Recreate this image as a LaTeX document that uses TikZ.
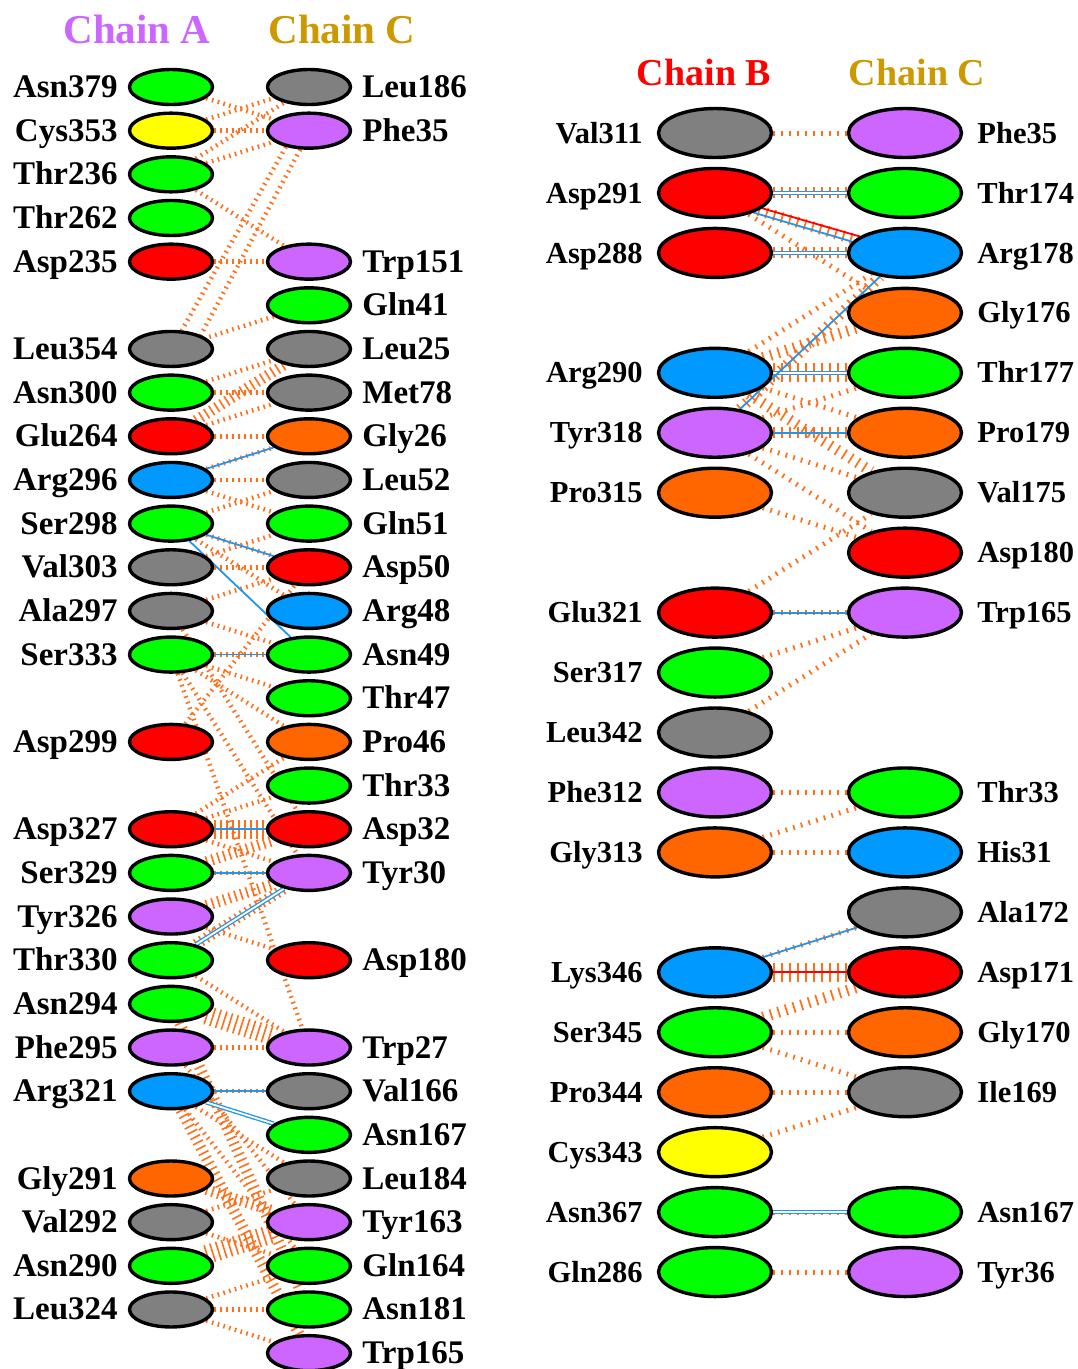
\documentclass[tikz,border=0pt]{standalone}
\usepackage{fontspec}
\setmainfont{Liberation Serif}
\usetikzlibrary{positioning, backgrounds, shapes.geometric}
\definecolor{resGreen}{HTML}{00FF00}
\definecolor{resYellow}{HTML}{FFFF00}
\definecolor{resRed}{HTML}{FF0000}
\definecolor{resGrey}{HTML}{808080}
\definecolor{resPurple}{HTML}{CC66FF}
\definecolor{resBlue}{HTML}{0099FF}
\definecolor{resOrange}{HTML}{FF6600}
\definecolor{ctOrange}{HTML}{FF6F1A}
\definecolor{hbBlue}{HTML}{1F97EE}
\definecolor{chainA}{HTML}{CC66FF}
\definecolor{chainB}{HTML}{FF0000}
\definecolor{chainC}{HTML}{CC9900}

\begin{document}
\begin{tikzpicture}[x=1pt, y=-1pt,
  resbase/.style={ellipse, draw=black, line width=3.4pt, inner sep=0pt},
  resL/.style={resbase, minimum width=83pt, minimum height=35pt},
  resR/.style={resbase, minimum width=113pt, minimum height=49pt},
  lblL/.style={inner sep=0pt, font=\fontsize{33}{36}\selectfont\bfseries, text height=22pt, text depth=1pt},
  lblR/.style={inner sep=0pt, font=\fontsize{30.5}{34}\selectfont\bfseries, text height=21pt, text depth=0.8pt},
  ttl/.style={inner sep=0pt, anchor=base, font=\fontsize{41}{44}\selectfont\bfseries},
  ct/.style={draw=ctOrange, line width=4.5pt, dash pattern=on 1.6pt off 4.4pt},
  ctB/.style={ct, line width=11pt},
  ctC/.style={ct, line width=19pt},
  hb/.style={draw=hbBlue, line width=1.8pt},
  hbb/.style={draw=hbBlue, line width=1.3pt, double=white, double distance=1.8pt},
  salt/.style={draw=red, line width=1.8pt},
]
  \useasboundingbox (0,0) rectangle (1078,1369);

  % ---------- left panel: chain A / chain C ----------
  \node[ttl, text=chainA] (ttlA) at (137,43) {Chain A};
  \node[ttl, text=chainC] (ttlC1) at (342,43) {Chain C};
  \foreach \r/\i/\c in {Asn379/0/resGreen, Cys353/1/resYellow, Thr236/2/resGreen,
      Thr262/3/resGreen, Asp235/4/resRed, Leu354/6/resGrey, Asn300/7/resGreen,
      Glu264/8/resRed, Arg296/9/resBlue, Ser298/10/resGreen, Val303/11/resGrey,
      Ala297/12/resGrey, Ser333/13/resGreen, Asp299/15/resRed, Asp327/17/resRed,
      Ser329/18/resGreen, Tyr326/19/resPurple, Thr330/20/resGreen, Asn294/21/resGreen,
      Phe295/22/resPurple, Arg321/23/resBlue, Gly291/25/resOrange, Val292/26/resGrey,
      Asn290/27/resGreen, Leu324/28/resGrey} {
    \node[resL, fill=\c] (la\r) at (171,{87+43.66*\i}) {};
    \node[lblL, left=10pt of la\r] (tla\r) {\r};
  }
  \foreach \r/\i/\c in {Leu186/0/resGrey, Phe35/1/resPurple, Trp151/4/resPurple,
      Gln41/5/resGreen, Leu25/6/resGrey, Met78/7/resGrey, Gly26/8/resOrange,
      Leu52/9/resGrey, Gln51/10/resGreen, Asp50/11/resRed, Arg48/12/resBlue,
      Asn49/13/resGreen, Thr47/14/resGreen, Pro46/15/resOrange, Thr33/16/resGreen,
      Asp32/17/resRed, Tyr30/18/resPurple, Asp180/20/resRed, Trp27/22/resPurple,
      Val166/23/resGrey, Asn167/24/resGreen, Leu184/25/resGrey, Tyr163/26/resPurple,
      Gln164/27/resGreen, Asn181/28/resGreen, Trp165/29/resPurple} {
    \node[resL, fill=\c] (lc\r) at (309,{87+43.66*\i}) {};
    \node[lblL, right=10pt of lc\r] (tlc\r) {\r};
  }

  % ---------- right panel: chain B / chain C ----------
  \node[ttl, text=chainB, font=\fontsize{38}{42}\selectfont\bfseries] (ttlB) at (704,85) {Chain B};
  \node[ttl, text=chainC, font=\fontsize{38}{42}\selectfont\bfseries] (ttlC2) at (917,85) {Chain C};
  \foreach \r/\i/\c in {Val311/0/resGrey, Asp291/1/resRed, Asp288/2/resRed,
      Arg290/4/resBlue, Tyr318/5/resPurple, Pro315/6/resOrange, Glu321/8/resRed,
      Ser317/9/resGreen, Leu342/10/resGrey, Phe312/11/resPurple, Gly313/12/resOrange,
      Lys346/14/resBlue, Ser345/15/resGreen, Pro344/16/resOrange, Cys343/17/resYellow,
      Asn367/18/resGreen, Gln286/19/resGreen} {
    \node[resR, fill=\c] (rb\r) at (715,{133+59.95*\i}) {};
    \node[lblR, left=14pt of rb\r] (trb\r) {\r};
  }
  \foreach \r/\i/\c in {Phe35/0/resPurple, Thr174/1/resGreen, Arg178/2/resBlue,
      Gly176/3/resOrange, Thr177/4/resGreen, Pro179/5/resOrange, Val175/6/resGrey,
      Asp180/7/resRed, Trp165/8/resPurple, Thr33/11/resGreen, His31/12/resBlue,
      Ala172/13/resGrey, Asp171/14/resRed, Gly170/15/resOrange, Ile169/16/resGrey,
      Asn167/18/resGreen, Tyr36/19/resPurple} {
    \node[resR, fill=\c] (rc\r) at (905,{133+59.95*\i}) {};
    \node[lblR, right=14pt of rc\r] (trc\r) {\r};
  }

  \begin{scope}[on background layer]
    % left contacts
    \draw[ct] (laAsn379) -- (lcPhe35);
    \draw[ct] (laCys353) -- (lcPhe35);
    \draw[ct] (laCys353) -- (lcLeu186);
    \draw[ct] (laThr236) -- (lcPhe35);
    \draw[ct] (laThr236) -- (lcLeu186);
    \draw[ct] (laThr236) -- (lcTrp151);
    \draw[ct] (laAsp235) -- (lcTrp151);
    \draw[ct] (lcPhe35.215) -- (laLeu354.60);
    \draw[ct] (lcPhe35.245) -- (laLeu354.25);
    \draw[ct] (lcGln41) -- (laLeu354);
    \draw[ctB] (laGlu264) -- (lcLeu25);
    \draw[ct] (laAsn300) -- (lcMet78);
    \draw[ct] (laAsn300) -- (lcLeu25);
    \draw[ct] (laGlu264) -- (lcMet78);
    \draw[ct] (laGlu264) -- (lcGly26);
    \draw[ct] (laArg296) -- (lcGly26);
    \draw[ct] (laArg296) -- (lcLeu52);
    \draw[ct] (laArg296) -- (lcGln51);
    \draw[ct] (laSer298) -- (lcLeu52);
    \draw[ct] (laSer298) -- (lcAsp50);
    \draw[ct] (laSer298) -- (lcArg48);
    \draw[ct] (laVal303) -- (lcAsp50);
    \draw[ct] (laVal303) -- (lcGln51);
    \draw[ct] (laAla297) -- (lcAsp50);
    \draw[ct] (laAla297) -- (lcAsn49);
    \draw[ct] (laSer333) -- (lcAsn49);
    \draw[ct] (laSer333) -- (lcThr47);
    \draw[ct] (laSer333) -- (lcPro46);
    \draw[ct] (laAsp299) -- (lcAsp50);
    \draw[ct] (laSer333) -- (lcTyr30);
    \draw[ct] (laAla297) -- (lcAsp32);
    \draw[ct] (laSer333) -- (lcTrp27);
    \draw[ctC] (laAsp327) -- (lcAsp32);
    \draw[ct] (laAsp327) -- (lcThr33);
    \draw[ct] (laAsp327) -- (lcPro46);
    \draw[ct] (laAsp327) -- (lcTyr30);
    \draw[ct] (laSer329) -- (lcTyr30);
    \draw[ctB] (laSer329) -- (lcAsp32);
    \draw[ctB] (laTyr326) -- (lcTyr30);
    \draw[ctB] (laThr330) -- (lcTyr30);
    \draw[ct] (laTyr326) -- (lcAsp180);
    \draw[ct] (laThr330) -- (lcTrp27);
    \draw[ctC] (laAsn294) -- (lcTrp27);
    \draw[ct] (laPhe295) -- (lcTrp27);
    \draw[ct] (laPhe295) -- (lcTyr163);
    \draw[ct] (laArg321) -- (lcVal166);
    \draw[ct] (laArg321) -- (lcAsn167);
    \draw[ct] (laArg321) -- (lcLeu184);
    \draw[ct] (laArg321) -- (lcGln164);
    \draw[ctB] (laArg321) -- (lcTrp165);
    \draw[ctB] (laAsn294) -- (lcAsn181);
    \draw[ctB] (laGly291) -- (lcTyr163);
    \draw[ct] (laVal292) -- (lcLeu184);
    \draw[ct] (laVal292) -- (lcGln164);
    \draw[ctC] (laAsn290) -- (lcTyr163);
    \draw[ct] (laLeu324) -- (lcGln164);
    \draw[ct] (laLeu324) -- (lcAsn181);
    \draw[ct] (laLeu324) -- (lcTrp165);
    % left hydrogen bonds
    \draw[hb] (laArg296) -- (lcGly26);
    \draw[hb] (laSer298) -- (lcAsp50);
    \draw[hb] (laSer298) -- (lcAsn49);
    \draw[hb] (laSer333) -- (lcAsn49);
    \draw[hb] (laAsp327) -- (lcAsp32);
    \draw[hb] (laSer329) -- (lcTyr30);
    \draw[hbb] (laThr330) -- (lcTyr30);
    \draw[hb] (laArg321) -- (lcVal166);
    \draw[hbb] (laArg321) -- (lcAsn167);

    % right contacts
    \begin{scope}[ct/.style={draw=ctOrange, line width=5pt, dash pattern=on 1.7pt off 6.3pt}]
      \draw[ct] (rbVal311) -- (rcPhe35);
      \draw[ctB] (rbAsp291) -- (rcThr174);
      \draw[ctB] (rbAsp291.-22) -- (rcArg178.165);
      \draw[ct] (rbAsp291) -- (rcGly176);
      \draw[ctB] (rbAsp288) -- (rcArg178);
      \draw[ct] (rbArg290) -- (rcArg178);
      \draw[ctB] (rbArg290) -- (rcGly176);
      \draw[ctC] (rbArg290) -- (rcThr177);
      \draw[ct] (rbArg290) -- (rcPro179);
      \draw[ctB] (rbArg290) -- (rcVal175);
      \draw[ctB] (rbTyr318) -- (rcArg178);
      \draw[ct] (rbTyr318) -- (rcThr177);
      \draw[ctB] (rbTyr318) -- (rcPro179);
      \draw[ct] (rbTyr318) -- (rcVal175);
      \draw[ct] (rbTyr318) -- (rcAsp180);
      \draw[ct] (rbPro315) -- (rcAsp180);
      \draw[ct] (rbGlu321) -- (rcVal175);
      \draw[ct] (rbGlu321) -- (rcTrp165);
      \draw[ct] (rbSer317) -- (rcTrp165);
      \draw[ct] (rbLeu342) -- (rcTrp165);
      \draw[ct] (rbPhe312) -- (rcThr33);
      \draw[ct] (rbGly313) -- (rcThr33);
      \draw[ct] (rbGly313) -- (rcHis31);
      \draw[ct] (rbLys346) -- (rcAla172);
      \draw[ctC] (rbLys346) -- (rcAsp171);
      \draw[ctB] (rbSer345) -- (rcAsp171);
      \draw[ct] (rbSer345) -- (rcGly170);
      \draw[ct] (rbSer345) -- (rcIle169);
      \draw[ct] (rbPro344) -- (rcIle169);
      \draw[ct] (rbCys343) -- (rcIle169);
      \draw[ct] (rbAsn367) -- (rcAsn167);
      \draw[ct] (rbGln286) -- (rcTyr36);
    \end{scope}
    % right bonds
    \draw[hbb] (rbAsp291) -- (rcThr174);
    \draw[salt] (rbAsp291.-18) -- (rcArg178.160);
    \draw[hb] (rbAsp291.-27) -- (rcArg178.168);
    \draw[hbb] (rbAsp288) -- (rcArg178);
    \draw[hbb] (rbArg290) -- (rcThr177);
    \draw[hb] (rbTyr318) -- (rcArg178);
    \draw[hb] (rbTyr318) -- (rcPro179);
    \draw[hb] (rbGlu321) -- (rcTrp165);
    \draw[hb] (rbLys346) -- (rcAla172);
    \draw[salt] (rbLys346) -- (rcAsp171);
    \draw[hbb] (rbAsn367) -- (rcAsn167);
  \end{scope}
\end{tikzpicture}
\end{document}
